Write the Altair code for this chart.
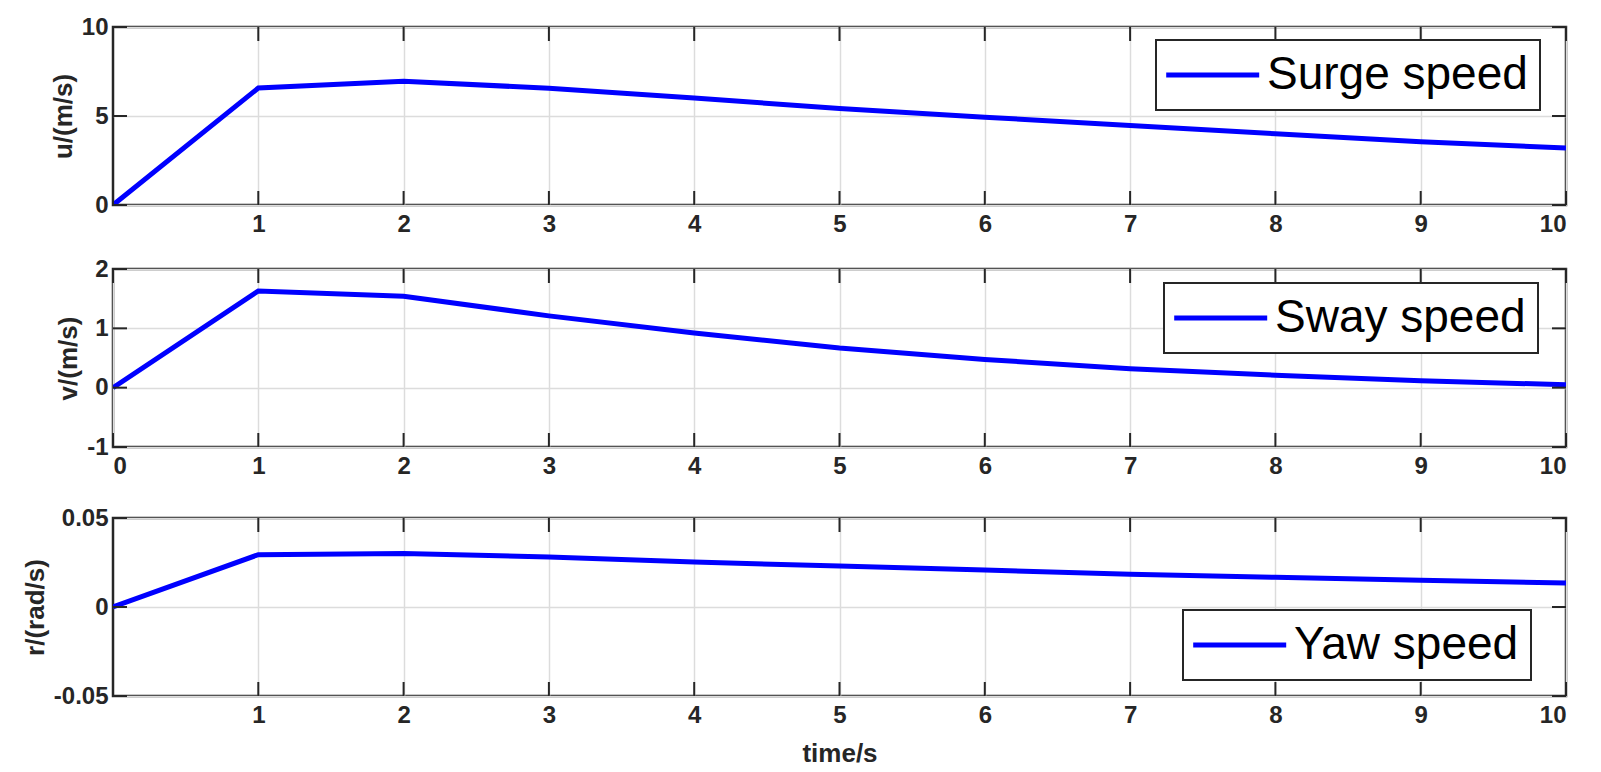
import altair as alt
import pandas as pd

# ---- data ----
time_s = [0, 1, 2, 3, 4, 5, 6, 7, 8, 9, 10]
surge_speed = [0.0, 6.57, 6.95, 6.56, 6.01, 5.42, 4.93, 4.47, 4.00, 3.56, 3.20]
sway_speed = [0.0, 1.63, 1.54, 1.21, 0.92, 0.67, 0.475, 0.32, 0.21, 0.115, 0.05]
yaw_speed = [0.0, 0.0294, 0.0300, 0.0281, 0.0253, 0.0230, 0.0208, 0.0184, 0.0167, 0.0150, 0.0135]

series_names = ["Surge speed", "Sway speed", "Yaw speed"]
y_titles = ["u/(m/s)", "v/(m/s)", "r/(rad/s)"]
y_domains = [[0, 10], [-1, 2], [-0.05, 0.05]]
y_ticks = [[0, 5, 10], [-1, 0, 1, 2], [-0.05, 0, 0.05]]
x_ticks_all = [0, 1, 2, 3, 4, 5, 6, 7, 8, 9, 10]
x_labels_12 = [1, 2, 3, 4, 5, 6, 7, 8, 9, 10]

W, H = 1453, 178
TL = 14
FONT = "Liberation Sans"
AX = "#262626"
GRID = "#dcdcdc"
BLUE = "#0000ff"


def panel(values, name, ytitle, ydom, yt, xlabels, lx, ly, xtitle):
    df = pd.DataFrame({"t": time_s, "val": values, "series": [name] * len(time_s)})
    xs = alt.Scale(domain=[0, 10], nice=False, zero=False)
    ys = alt.Scale(domain=ydom, nice=False, zero=False)
    xaxis = alt.Axis(values=xlabels, grid=True, labelPadding=7, titlePadding=13)
    yaxis = alt.Axis(values=yt, grid=True, labelPadding=5, titlePadding=5,
                     labelExpr="'' + datum.value")
    if xtitle:
        x_enc = alt.X("t:Q", scale=xs, axis=xaxis, title=xtitle)
    else:
        x_enc = alt.X("t:Q", scale=xs, axis=xaxis, title=None)
    y_enc = alt.Y("val:Q", scale=ys, axis=yaxis, title=ytitle)
    line = alt.Chart(df).mark_line(strokeWidth=5, clip=True).encode(
        x=x_enc,
        y=y_enc,
        color=alt.Color(
            "series:N",
            scale=alt.Scale(domain=[name], range=[BLUE]),
            title=None,
            legend=alt.Legend(
                orient="none", legendX=lx, legendY=ly,
                symbolType="M-1.6,0L4.4,0", symbolSize=31 * 31, symbolStrokeWidth=5,
                labelFont=FONT, labelFontSize=46, labelColor="black",
                labelLimit=800, labelOffset=53, padding=12,
                strokeColor=AX, fillColor="white",
            ),
        ),
    )
    xt = pd.DataFrame({"t": x_ticks_all})
    yt_df = pd.DataFrame({"val": yt})
    top_ticks = alt.Chart(xt).mark_rule(color=AX, strokeWidth=2).encode(
        x=x_enc, y=alt.value(0), y2=alt.value(TL))
    bot_ticks = alt.Chart(xt).mark_rule(color=AX, strokeWidth=2).encode(
        x=x_enc, y=alt.value(H - TL), y2=alt.value(H))
    left_ticks = alt.Chart(yt_df).mark_rule(color=AX, strokeWidth=2).encode(
        y=y_enc, x=alt.value(0), x2=alt.value(TL))
    right_ticks = alt.Chart(yt_df).mark_rule(color=AX, strokeWidth=2).encode(
        y=y_enc, x=alt.value(W - TL), x2=alt.value(W))
    return alt.layer(line, top_ticks, bot_ticks, left_ticks, right_ticks).properties(width=W, height=H)


p1 = panel(surge_speed, series_names[0], y_titles[0], y_domains[0], y_ticks[0], x_labels_12, 1043, 13, None)
p2 = panel(sway_speed, series_names[1], y_titles[1], y_domains[1], y_ticks[1], x_ticks_all, 1051, 14, None)
p3 = panel(yaw_speed, series_names[2], y_titles[2], y_domains[2], y_ticks[2], x_labels_12, 1070, 92, "time/s")

top_two = alt.vconcat(p1, p2, spacing=17).resolve_scale(color="independent")
chart = alt.vconcat(top_two, p3, spacing=24).resolve_scale(color="independent").configure_view(
    stroke=AX, strokeWidth=2.5
).configure_axis(
    domain=False, ticks=False, gridColor=GRID, gridWidth=1.5,
    labelFont=FONT, labelFontSize=24, labelFontWeight="bold", labelColor=AX,
    titleFont=FONT, titleFontSize=26, titleFontWeight="bold", titleColor=AX,
).configure_legend(
    strokeWidth=2
).properties(background="white", padding={"left": 13, "top": 5, "right": 5, "bottom": 0})

chart.save("out.html", embed_options={"renderer": "svg", "actions": False})
